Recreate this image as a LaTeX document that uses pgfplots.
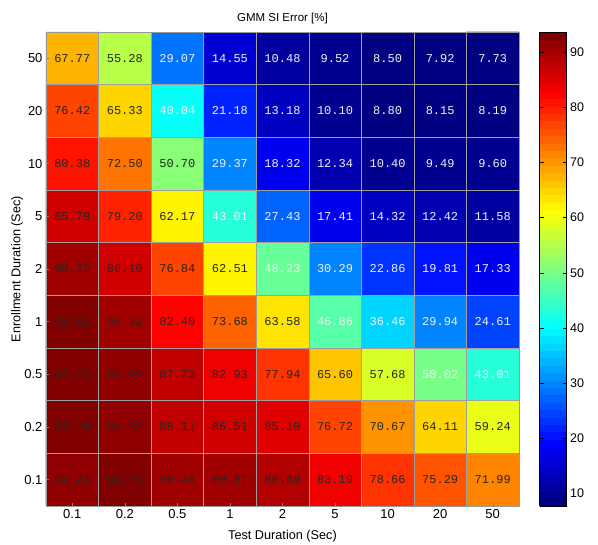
\documentclass[border=0pt]{standalone}
\usepackage{pgfplots}
\usepackage{pgfplotstable}
\pgfplotsset{compat=1.18}
\usepackage{fontspec}
\setmainfont{Liberation Sans}
\newfontfamily\cellfont{Liberation Mono}

% x = test duration index, y = enrollment duration index
\pgfplotstableread{
x y z
0 0 92.21
1 0 92.79
2 0 90.48
3 0 89.87
4 0 88.68
5 0 83.19
6 0 78.66
7 0 75.29
8 0 71.99
0 1 93.18
1 1 91.35
2 1 88.11
3 1 86.51
4 1 85.10
5 1 76.72
6 1 70.67
7 1 64.11
8 1 59.24
0 2 93.64
1 2 91.96
2 2 87.73
3 2 82.93
4 2 77.94
5 2 65.60
6 2 57.68
7 2 50.02
8 2 43.01
0 3 92.61
1 3 90.32
2 3 82.40
3 3 73.68
4 3 63.58
5 3 46.86
6 3 36.46
7 3 29.94
8 3 24.61
0 4 90.32
1 4 86.10
2 4 76.84
3 4 62.51
4 4 48.23
5 4 30.29
6 4 22.86
7 4 19.81
8 4 17.33
0 5 85.79
1 5 79.20
2 5 62.17
3 5 43.01
4 5 27.43
5 5 17.41
6 5 14.32
7 5 12.42
8 5 11.58
0 6 80.38
1 6 72.50
2 6 50.70
3 6 29.37
4 6 18.32
5 6 12.34
6 6 10.40
7 6 9.49
8 6 9.60
0 7 76.42
1 7 65.33
2 7 40.04
3 7 21.18
4 7 13.18
5 7 10.10
6 7 8.80
7 7 8.15
8 7 8.19
0 8 67.77
1 8 55.28
2 8 29.07
3 8 14.55
4 8 10.48
5 8 9.52
6 8 8.50
7 8 7.92
8 8 7.73
}\errtable

\pgfplotsset{
  cell label/.style={draw=none, mark=none, point meta=explicit,
    nodes near coords={\pgfmathprintnumber[fixed,fixed zerofill,precision=2]{\pgfplotspointmeta}},
    nodes near coords align=center,
    every node near coord/.append style={font=\cellfont\fontsize{12}{12}\selectfont, inner sep=0pt, text=#1}},
}

\begin{document}
\begin{tikzpicture}[x=1pt,y=1pt]
\useasboundingbox (-46,-39) rectangle (552,506);
\begin{axis}[
  at={(0,0)}, anchor=south west,
  scale only axis, width=473pt, height=474pt,
  xmin=-0.5, xmax=8.5, ymin=-0.5, ymax=8.5,
  xtick={0,...,8}, ytick={0,...,8},
  xticklabels={0.1,0.2,0.5,1,2,5,10,20,50},
  yticklabels={0.1,0.2,0.5,1,2,5,10,20,50},
  xtick pos=left, ytick pos=left,
  tick align=inside, major tick length=3pt,
  tick style={gray, line width=0.4pt},
  minor xtick={0.5,1.5,...,7.5}, minor ytick={0.5,1.5,...,7.5},
  xminorgrids, yminorgrids, minor tick length=0pt,
  minor grid style={gray!75, line width=0.5pt},
  axis line style={gray!80},
  axis on top,
  /pgf/number format/assume math mode=true,
  tick label style={font=\fontsize{13}{15}\selectfont},
  label style={font=\fontsize{12.7}{15}\selectfont},
  title={GMM SI Error [\%]},
  title style={font=\fontsize{11.5}{13}\selectfont, at={(axis description cs:0.5,0.998)}, anchor=south},
  xlabel={Test Duration (Sec)},
  xlabel style={at={(axis description cs:0.5,-0.0633)}, anchor=center},
  ylabel={Enrollment Duration (Sec)},
  ylabel style={at={(axis description cs:-0.0613,0.5)}, anchor=center},
  colormap/jet,
  colormap={jetd}{samples of colormap=(64 of jet)},
  colormap access=piecewise constant,
  point meta min=7.73, point meta max=93.64,
  colorbar,
  colorbar style={
    at={(parent axis.north east)}, anchor=north west, xshift=12pt,
    scale only axis, width=27pt,
    ytick={10,20,...,90},
    tick align=inside, major tick length=4pt,
    tick style={black, line width=0.4pt},
    ytick pos=both, yticklabel pos=right,
    /pgf/number format/assume math mode=true,
    tick label style={font=\fontsize{12.5}{14}\selectfont},
  },
]
\addplot[matrix plot*, mesh/cols=9, mesh/rows=9, point meta=explicit]
  table[x=x, y=y, meta=z] {\errtable};
\addplot[cell label=black!85, restrict expr to domain={\thisrow{z}}{50.5:100}]
  table[x=x, y=y, meta=z] {\errtable};
\addplot[cell label=white!88!gray, restrict expr to domain={\thisrow{z}}{0:50.5}]
  table[x=x, y=y, meta=z] {\errtable};
\end{axis}
\end{tikzpicture}
\end{document}
